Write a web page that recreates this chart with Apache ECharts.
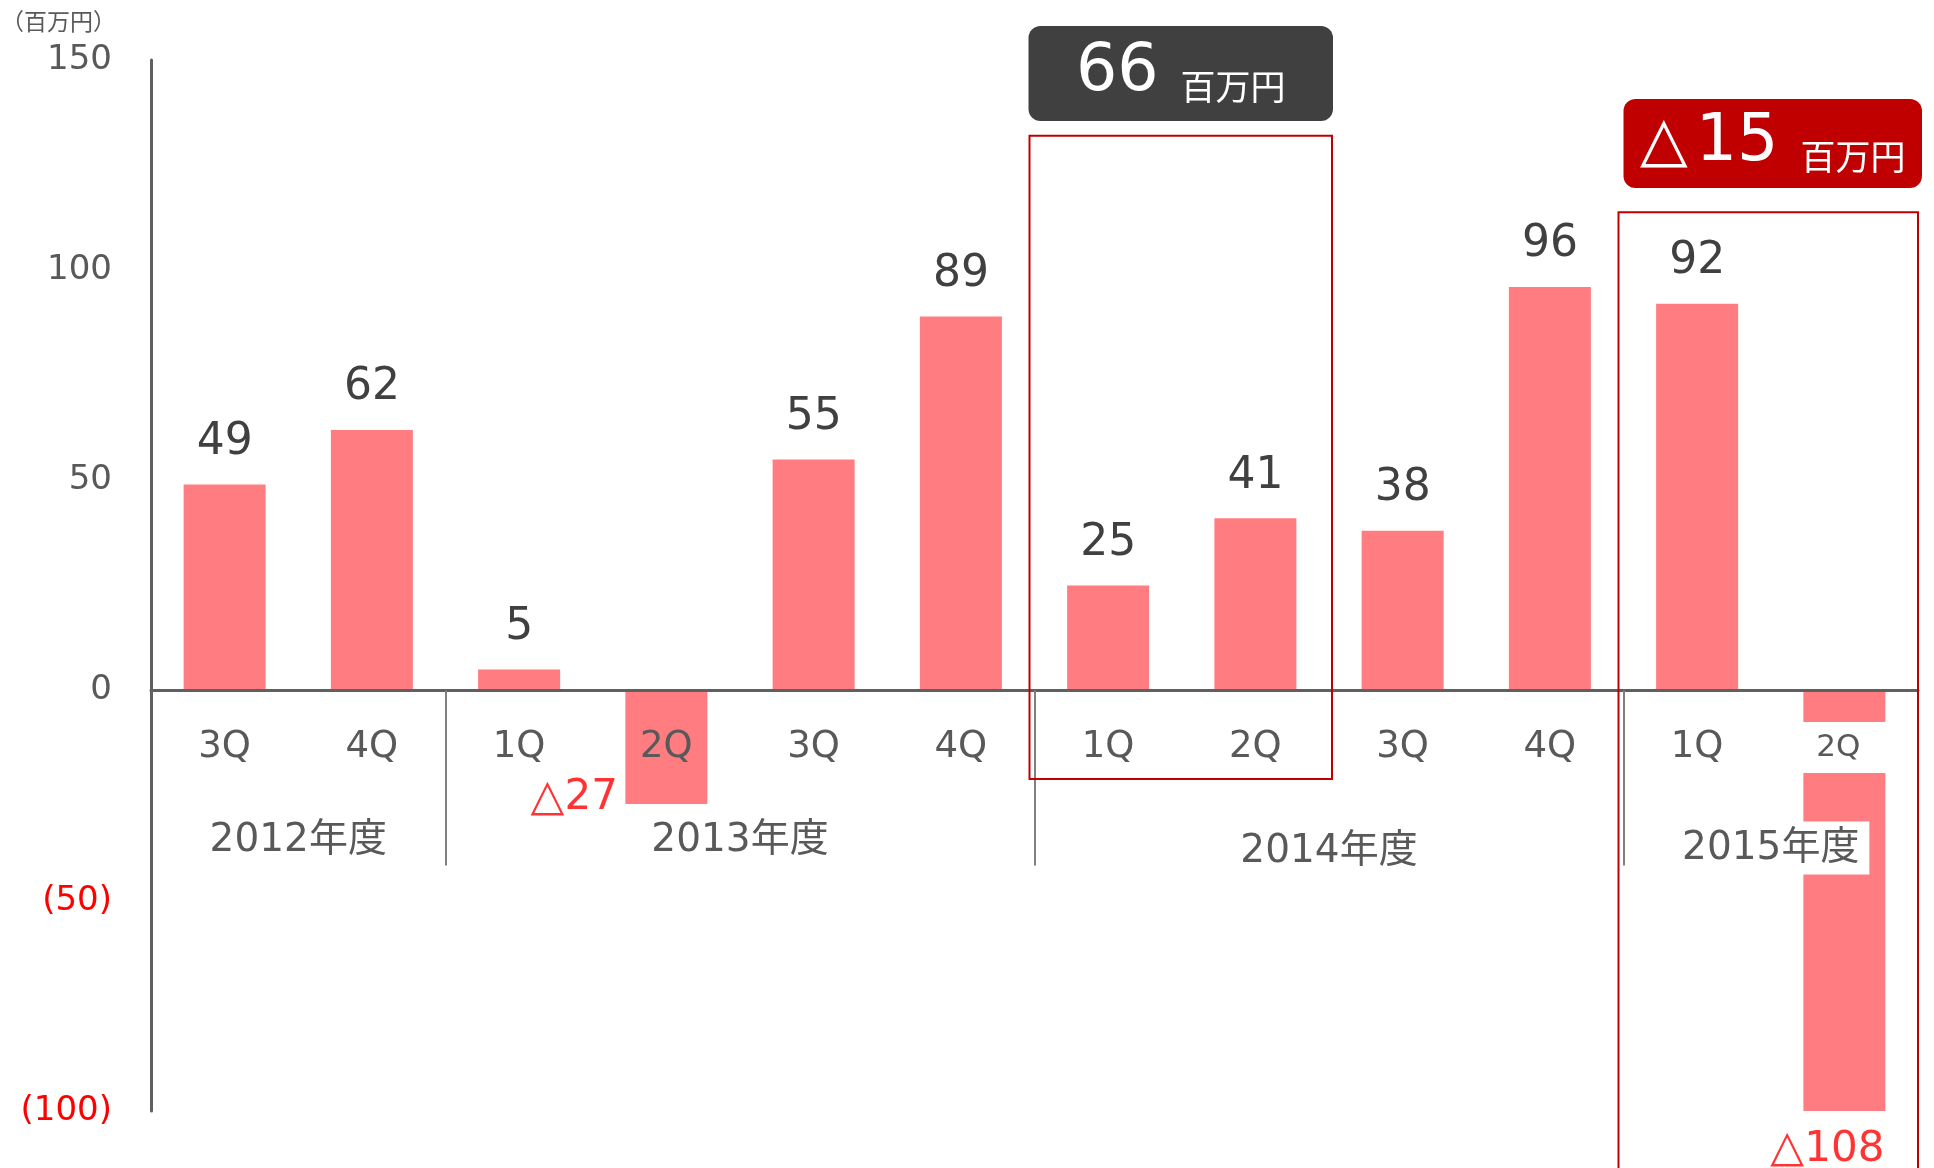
<!DOCTYPE html>
<html>
<head>
<meta charset="utf-8">
<title>四半期別 営業利益</title>
<script src="https://cdn.jsdelivr.net/npm/echarts@6/dist/echarts.min.js"></script>
<style>
  html, body { margin: 0; padding: 0; background: #fff; }
  #chart { width: 1934px; height: 1168px; }
</style>
</head>
<body>
<div id="chart"></div>
<script>
// ---- data ----
const quarters = ['3Q', '4Q', '1Q', '2Q', '3Q', '4Q', '1Q', '2Q', '3Q', '4Q', '1Q', '2Q'];
const profits = [49, 62, 5, -27, 55, 89, 25, 41, 38, 96, 92, -108];
const fiscalYears = ['2012年度', '2013年度', '2014年度', '2015年度'];
const quartersPerYear = [2, 4, 4, 2];
const halfYearTotals = [66, -15];
const halfYearRanges = [[6, 7], [10, 11]];
const yMin = -100, yMax = 150, yStep = 50;

// ---- styling ----
const FONT = "'DejaVu Sans', 'Noto Sans CJK JP', sans-serif";
const CJK = "'Noto Sans CJK JP', sans-serif";
const BAR = '#FF7C80';
const AXIS = '#606060';
const LABEL = '#595959';
const VALUE = '#404040';
const NEG = '#FF0000';
const FRAME = '#C00000';
const GRID = { left: 151, right: 16, top: 60, bottom: 57 };

// year label styles: the 2014 label sits a little lower, the 2015 label has a white plate
const yearLabelStyle = ['hi', 'hi', 'lo', 'plate'];

// frame / badge layout for each highlighted half-year
const frameLayout = [
  { padL: 5, padR: 3, topValue: 132, bottomValue: -21, badgeTop: 26, badgeH: 95, badgePadL: 6, badgePadR: 4, fill: '#404040' },
  { padL: 5, padR: 0, topValue: 113.8, bottomValue: null, badgeTop: 99, badgeH: 89, badgePadL: 0, badgePadR: 4, fill: '#C00000' }
];

// fiscal-year group positions on a 0..12 scale
const yearStarts = [];
let acc = 0;
quartersPerYear.forEach(n => { yearStarts.push(acc); acc += n; });
const yearCenters = yearStarts.map((s, i) => s + quartersPerYear[i] / 2);
const yearBreaks = yearStarts.slice(1);

const tri = v => '{t|△}{n|' + Math.abs(v) + '}';

const chart = echarts.init(document.getElementById('chart'), null, { renderer: 'canvas' });

const negatives = profits.map((v, i) => [i, v]).filter(d => d[1] < 0);

const option = {
  animation: false,
  backgroundColor: '#fff',
  textStyle: { fontFamily: FONT },
  title: {
    text: '（百万円）',
    left: -4, top: 5,
    textStyle: { fontSize: 23, fontWeight: 'normal', color: LABEL, fontFamily: CJK }
  },
  grid: Object.assign({ containLabel: false, outerBoundsMode: 'none' }, GRID),
  xAxis: [
    {
      type: 'category',
      data: quarters,
      position: 'bottom',
      z: 10,
      axisLine: { onZero: false, lineStyle: { color: AXIS, width: 3 } },
      axisTick: { show: false, interval: 0 },
      splitLine: { show: false },
      axisLabel: {
        interval: 0,
        margin: 57,
        verticalAlign: 'middle',
        fontSize: 37,
        color: LABEL,
        fontFamily: FONT,
        formatter: (v, i) => (i === quarters.length - 1 ? '{w|' + v + '}' : v),
        rich: {
          w: { fontSize: 31, color: LABEL, fontFamily: FONT, backgroundColor: '#fff', padding: [10, 26, 10, 14] }
        }
      }
    },
    {
      type: 'value',
      min: 0,
      max: quarters.length,
      position: 'bottom',
      z: 10,
      axisLine: { show: false, onZero: false },
      splitLine: { show: false },
      axisTick: { show: true, customValues: yearBreaks, length: 175, lineStyle: { color: '#808080', width: 2 } },
      axisLabel: {
        customValues: yearCenters,
        margin: 131,
        verticalAlign: 'top',
        formatter: v => {
          const k = yearCenters.indexOf(v);
          return k < 0 ? '' : '{' + yearLabelStyle[k] + '|' + fiscalYears[k] + '}';
        },
        rich: {
          hi: { fontSize: 39, color: LABEL, fontFamily: FONT },
          lo: { fontSize: 39, color: LABEL, fontFamily: FONT, padding: [11, 0, 0, 0] },
          plate: { fontSize: 39, color: LABEL, fontFamily: FONT, backgroundColor: '#fff', padding: [8, 10, 6, 10] }
        }
      }
    }
  ],
  yAxis: {
    type: 'value',
    min: yMin,
    max: yMax,
    interval: yStep,
    axisLine: { show: true, onZero: false, lineStyle: { color: AXIS, width: 3 } },
    axisTick: { show: false },
    splitLine: { show: false },
    axisLabel: {
      margin: 39,
      fontSize: 34,
      fontFamily: FONT,
      color: v => (v < 0 ? NEG : LABEL),
      formatter: v => (v < 0 ? '(' + (-v) + ')' : String(v))
    }
  },
  series: [
    {
      type: 'bar',
      name: '営業利益',
      barWidth: 82,
      itemStyle: { color: BAR },
      label: { position: 'top', distance: 20, fontSize: 44, color: VALUE, fontFamily: FONT },
      data: profits.map(v => ({ value: v, label: { show: v >= 0 } }))
    },
    {
      type: 'scatter',
      name: '赤字',
      clip: false,
      silent: true,
      symbolSize: 1,
      itemStyle: { color: 'rgba(0,0,0,0)' },
      z: 12,
      label: {
        show: true,
        formatter: p => tri(p.value[1]),
        rich: {
          t: { fontSize: 44, color: NEG, fontFamily: FONT },
          n: { fontSize: 42, color: NEG, fontFamily: FONT }
        }
      },
      data: negatives.map(d => ({
        value: d,
        label: d[1] < yMin
          ? { position: 'inside', align: 'right', offset: [40, 5] }
          : { position: 'left', distance: 48, offset: [0, -6] }
      }))
    }
  ]
};

chart.setOption(option);

// ---- move the quarter / year axes onto the zero line ----
const px = (i, v) => chart.convertToPixel({ seriesIndex: 0 }, [i, v]);
const gridBottomY = chart.getHeight() - GRID.bottom;
const zeroOffset = px(0, 0)[1] - gridBottomY;

// ---- half-year frames and total badges ----
const band = px(1, 0)[0] - px(0, 0)[0];
const badgeText = v => (v < 0 ? '{t|△}{n|' + Math.abs(v) + '}{u|百万円}' : '{n|' + v + '}{u|百万円}');

const graphics = [];
halfYearRanges.forEach((r, k) => {
  const L = frameLayout[k];
  const x0 = px(r[0], 0)[0] - band / 2;
  const x1 = px(r[1], 0)[0] + band / 2;
  const yTop = px(0, L.topValue)[1];
  const yBot = L.bottomValue == null ? chart.getHeight() + 10 : px(0, L.bottomValue)[1];
  graphics.push({
    type: 'rect', z: 100, silent: true,
    shape: { x: x0 - L.padL, y: yTop, width: (x1 + L.padR) - (x0 - L.padL), height: yBot - yTop },
    style: { fill: 'none', stroke: FRAME, lineWidth: 2 }
  });
  const bx0 = x0 - L.badgePadL, bx1 = x1 + L.badgePadR;
  graphics.push({
    type: 'rect', z: 100, silent: true,
    shape: { x: bx0, y: L.badgeTop, width: bx1 - bx0, height: L.badgeH, r: 12 },
    style: { fill: L.fill }
  });
  graphics.push({
    type: 'text', z: 101, silent: true,
    x: (bx0 + bx1) / 2, y: L.badgeTop + L.badgeH / 2,
    style: {
      text: badgeText(halfYearTotals[k]),
      align: 'center',
      verticalAlign: 'middle',
      fill: '#fff',
      rich: {
        t: { fontSize: 62, lineHeight: 62, fill: '#fff', fontFamily: FONT, padding: [0, 8, 0, 0] },
        n: { fontSize: 65, lineHeight: 62, fill: '#fff', fontFamily: FONT },
        u: { fontSize: 35, lineHeight: 34, fill: '#fff', fontFamily: CJK, verticalAlign: 'bottom', padding: [0, 0, 0, 22] }
      }
    }
  });
});

chart.setOption({
  xAxis: [{ offset: zeroOffset }, { offset: zeroOffset }],
  graphic: graphics
});
</script>
</body>
</html>
